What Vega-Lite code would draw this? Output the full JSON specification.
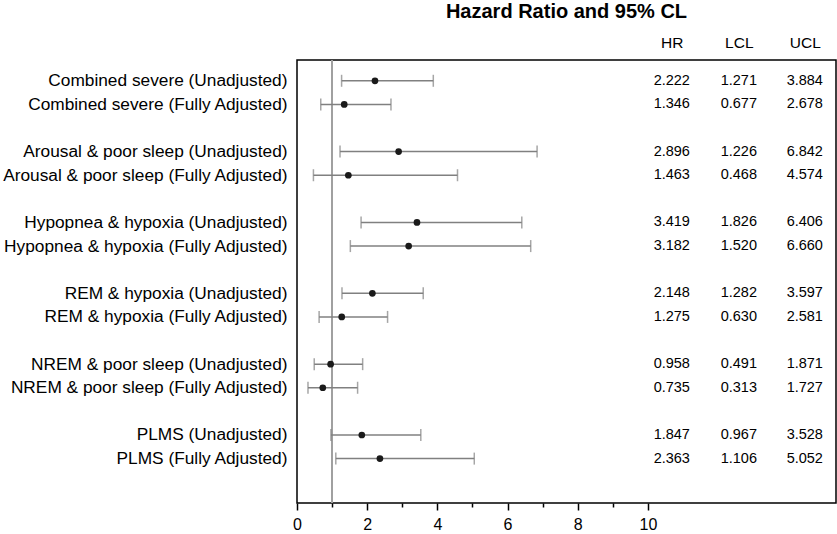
{
  "$schema": "https://vega.github.io/schema/vega-lite/v6.json",
  "width": 539,
  "height": 443,
  "autosize": {"type": "none"},
  "padding": {"left": 297, "top": 60, "right": 1, "bottom": 31},
  "background": "#ffffff",
  "config": {
    "font": "Liberation Sans",
    "view": {"stroke": "#000000", "strokeWidth": 1.5},
    "axis": {"grid": false}
  },
  "title": {
    "text": "Hazard Ratio and 95% CL",
    "fontSize": 20,
    "fontWeight": "bold",
    "font": "Liberation Sans",
    "color": "#000000",
    "anchor": "middle",
    "offset": 13
  },
  "data": {
    "values": [
      {"label": "Combined severe (Unadjusted)", "hr": 2.222, "lcl": 1.271, "ucl": 3.884},
      {"label": "Combined severe (Fully Adjusted)", "hr": 1.346, "lcl": 0.677, "ucl": 2.678},
      {"label": "Arousal & poor sleep (Unadjusted)", "hr": 2.896, "lcl": 1.226, "ucl": 6.842},
      {"label": "Arousal & poor sleep (Fully Adjusted)", "hr": 1.463, "lcl": 0.468, "ucl": 4.574},
      {"label": "Hypopnea & hypoxia (Unadjusted)", "hr": 3.419, "lcl": 1.826, "ucl": 6.406},
      {"label": "Hypopnea & hypoxia (Fully Adjusted)", "hr": 3.182, "lcl": 1.520, "ucl": 6.660},
      {"label": "REM & hypoxia (Unadjusted)", "hr": 2.148, "lcl": 1.282, "ucl": 3.597},
      {"label": "REM & hypoxia (Fully Adjusted)", "hr": 1.275, "lcl": 0.630, "ucl": 2.581},
      {"label": "NREM & poor sleep (Unadjusted)", "hr": 0.958, "lcl": 0.491, "ucl": 1.871},
      {"label": "NREM & poor sleep (Fully Adjusted)", "hr": 0.735, "lcl": 0.313, "ucl": 1.727},
      {"label": "PLMS (Unadjusted)", "hr": 1.847, "lcl": 0.967, "ucl": 3.528},
      {"label": "PLMS (Fully Adjusted)", "hr": 2.363, "lcl": 1.106, "ucl": 5.052}
    ]
  },
  "layer": [
    {
      "mark": {"type": "rule", "color": "#a0a0a0", "strokeWidth": 1.5},
      "encoding": {"x": {"datum": 1, "type": "quantitative", "axis": null}}
    },
    {
      "mark": {"type": "rule", "color": "#808080", "strokeWidth": 1.5},
      "encoding": {
        "y": {
          "field": "label",
          "type": "nominal",
          "title": null,
          "scale": {
            "type": "point",
            "padding": 0.88,
            "domain": [
              "Combined severe (Unadjusted)", "Combined severe (Fully Adjusted)", " ",
              "Arousal & poor sleep (Unadjusted)", "Arousal & poor sleep (Fully Adjusted)", "  ",
              "Hypopnea & hypoxia (Unadjusted)", "Hypopnea & hypoxia (Fully Adjusted)", "   ",
              "REM & hypoxia (Unadjusted)", "REM & hypoxia (Fully Adjusted)", "    ",
              "NREM & poor sleep (Unadjusted)", "NREM & poor sleep (Fully Adjusted)", "     ",
              "PLMS (Unadjusted)", "PLMS (Fully Adjusted)", "      "
            ]
          },
          "axis": {
            "ticks": false,
            "domain": false,
            "labelFontSize": 17.3,
            "labelColor": "#000000",
            "labelPadding": 10,
            "labelLimit": 500
          }
        },
        "x": {
          "field": "lcl",
          "type": "quantitative",
          "scale": {"domain": [0, 15.36], "nice": false, "zero": false},
          "axis": {
            "orient": "bottom",
            "title": null,
            "values": [0, 1, 2, 3, 4, 5, 6, 7, 8, 9, 10],
            "labelExpr": "datum.value % 2 == 0 ? datum.label : ''",
            "tickSize": {"condition": {"test": "datum.value % 2 == 1", "value": 4}, "value": 7},
            "tickColor": "#000000",
            "tickWidth": 1.5,
            "domain": false,
            "labelFontSize": 16,
            "labelColor": "#000000",
            "labelPadding": 6,
            "labelFlush": false,
            "labelOverlap": false
          }
        },
        "x2": {"field": "ucl"}
      }
    },
    {
      "mark": {"type": "tick", "color": "#808080", "thickness": 1.5, "size": 12},
      "encoding": {
        "y": {"field": "label", "type": "nominal"},
        "x": {"field": "lcl", "type": "quantitative", "axis": null}
      }
    },
    {
      "mark": {"type": "tick", "color": "#808080", "thickness": 1.5, "size": 12},
      "encoding": {
        "y": {"field": "label", "type": "nominal"},
        "x": {"field": "ucl", "type": "quantitative", "axis": null}
      }
    },
    {
      "mark": {"type": "point", "filled": true, "color": "#1a1a1a", "size": 45, "opacity": 1},
      "encoding": {
        "y": {"field": "label", "type": "nominal"},
        "x": {"field": "hr", "type": "quantitative", "axis": null}
      }
    },
    {
      "mark": {"type": "text", "fontSize": 14.5, "color": "#000000", "align": "center", "baseline": "middle"},
      "encoding": {
        "y": {"field": "label", "type": "nominal"},
        "x": {
          "datum": 10.68,
          "type": "quantitative",
          "axis": {
            "orient": "top",
            "title": null,
            "values": [10.68, 12.59, 14.47],
            "labelExpr": "datum.value < 11 ? 'HR' : (datum.value < 13 ? 'LCL' : 'UCL')",
            "ticks": false,
            "domain": false,
            "labelFontSize": 15.5,
            "labelColor": "#000000",
            "labelPadding": 10,
            "labelFlush": false,
            "labelOverlap": false
          }
        },
        "text": {"field": "hr", "type": "quantitative", "format": ".3f"}
      }
    },
    {
      "mark": {"type": "text", "fontSize": 14.5, "color": "#000000", "align": "center", "baseline": "middle"},
      "encoding": {
        "y": {"field": "label", "type": "nominal"},
        "x": {"datum": 12.59, "type": "quantitative", "axis": null},
        "text": {"field": "lcl", "type": "quantitative", "format": ".3f"}
      }
    },
    {
      "mark": {"type": "text", "fontSize": 14.5, "color": "#000000", "align": "center", "baseline": "middle"},
      "encoding": {
        "y": {"field": "label", "type": "nominal"},
        "x": {"datum": 14.47, "type": "quantitative", "axis": null},
        "text": {"field": "ucl", "type": "quantitative", "format": ".3f"}
      }
    }
  ],
  "resolve": {"axis": {"x": "independent"}}
}
